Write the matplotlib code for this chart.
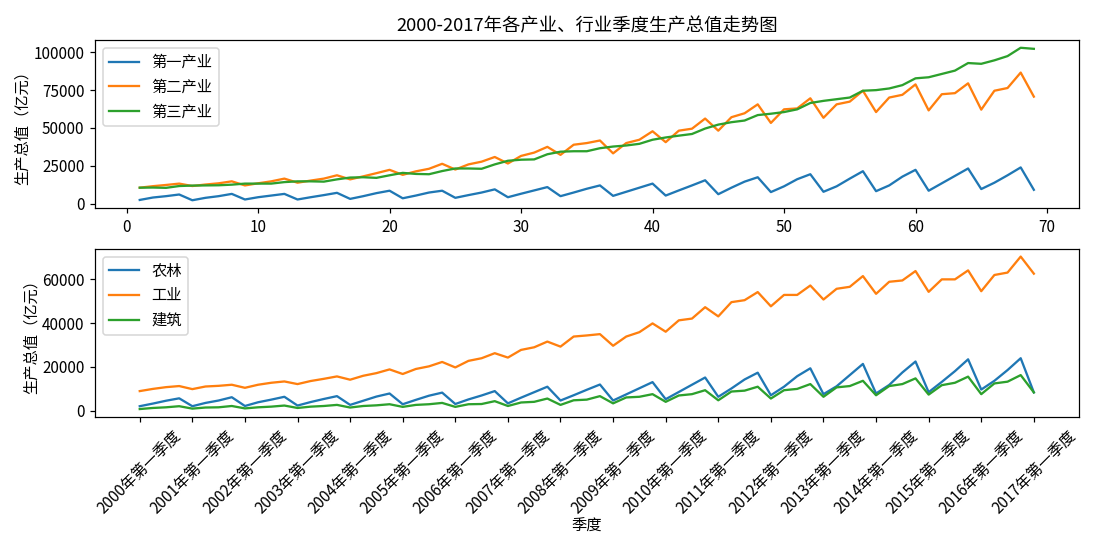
import matplotlib
matplotlib.use("Agg")
import matplotlib.pyplot as plt
import numpy as np

plt.rcParams['font.family'] = ['Noto Sans CJK SC', 'DejaVu Sans']
plt.rcParams['axes.unicode_minus'] = False

# quarter index for upper chart (1..69)
quarter_num = list(range(1, 70))

primary = [2400, 4000, 4900, 6000,
           2200, 3800, 4900, 6400,
           2700, 4200, 5300, 6400,
           2700, 4200, 5600, 7100,
           3100, 4900, 6900, 8500,
           3500, 5300, 7300, 8500,
           3800, 5600, 7300, 9400,
           4200, 6500, 8700, 10900,
           4900, 7300, 9800, 12000,
           5100, 7800, 10500, 13200,
           5300, 8700, 12000, 15400,
           6200, 10500, 14500, 17400,
           7600, 11400, 16100, 19400,
           7800, 11400, 16500, 21400,
           8200, 12000, 17800, 22300,
           8500, 13400, 18300, 23200,
           9600, 13800, 18700, 23900,
           9100]

secondary = [10500, 11500, 12300, 13200,
             11600, 12600, 13400, 14700,
             12000, 13400, 14700, 16500,
             13800, 15200, 16500, 18700,
             16000, 18000, 20100, 22300,
             19000, 21300, 23000, 26300,
             22500, 25900, 27700, 30800,
             26500, 31500, 33700, 37500,
             32200, 38900, 40000, 41700,
             33200, 40000, 42200, 47800,
             40600, 48200, 49500, 56200,
             48200, 57100, 59700, 65600,
             53300, 62300, 62900, 69600,
             56700, 65600, 67400, 74600,
             60500, 70100, 71900, 78800,
             61600, 72300, 73000, 79500,
             62100, 74600, 76400, 86600,
             70700]

tertiary = [10500, 10600, 10400, 11600,
            11900, 12000, 12100, 12500,
            13200, 13200, 13200, 14200,
            14700, 14700, 14500, 16000,
            17200, 17400, 17000, 18700,
            20300, 19600, 19400, 21500,
            23200, 23200, 23000, 25900,
            28300, 29000, 29200, 32600,
            34300, 34600, 34600, 36600,
            37700, 38400, 39500, 42200,
            43700, 44900, 46000, 49600,
            52200, 53800, 54900, 58500,
            59400, 60500, 62300, 66500,
            67900, 69000, 70100, 74600,
            75000, 76100, 78300, 82800,
            83500, 85700, 87900, 92900,
            92400, 94700, 97500, 103000,
            102300]

agriculture = [2100, 3300, 4600, 5700,
               2100, 3600, 4700, 6200,
               2200, 3900, 5100, 6400,
               2400, 4000, 5400, 6700,
               2700, 4600, 6500, 7900,
               3000, 5000, 6900, 8300,
               3100, 5200, 7000, 9000,
               3400, 6000, 8500, 11000,
               4700, 7100, 9600, 12000,
               4700, 7500, 10300, 13100,
               5300, 8600, 11900, 15200,
               6400, 10200, 14300, 17400,
               7100, 11000, 15800, 19400,
               7600, 11200, 16300, 21400,
               7900, 11800, 17500, 22500,
               8500, 13200, 18100, 23500,
               9700, 13700, 18600, 24000,
               8400]

industry = [9000, 10000, 10800, 11300,
            9900, 11100, 11400, 11900,
            10500, 11900, 12800, 13400,
            12200, 13600, 14600, 15700,
            14200, 16000, 17200, 18900,
            16800, 19100, 20300, 22300,
            19800, 22800, 24000, 26300,
            24300, 27800, 29000, 31600,
            29300, 33900, 34400, 35000,
            29700, 33900, 35900, 39900,
            36100, 41300, 42100, 47300,
            43100, 49600, 50500, 54200,
            47700, 52900, 52900, 57200,
            50800, 55700, 56600, 61500,
            53400, 58900, 59500, 63800,
            54300, 60000, 60000, 64100,
            54600, 62000, 63100, 70400,
            62600]

construction = [800, 1300, 1600, 2100,
                1000, 1500, 1600, 2200,
                1100, 1600, 1900, 2400,
                1300, 1900, 2200, 2700,
                1500, 2200, 2500, 3000,
                1800, 2700, 3000, 3600,
                1800, 3000, 3100, 4400,
                2200, 3800, 4100, 5600,
                2700, 4800, 5100, 6700,
                3400, 6100, 6400, 7600,
                4100, 7000, 7600, 9400,
                4800, 8800, 9200, 11000,
                5600, 9400, 10000, 12200,
                6400, 10700, 11300, 13700,
                7100, 11300, 12200, 14800,
                7400, 11700, 12800, 15600,
                7600, 12500, 13300, 16300,
                8400]

tick_labels = ['2000年第一季度', '2001年第一季度', '2002年第一季度', '2003年第一季度',
               '2004年第一季度', '2005年第一季度', '2006年第一季度', '2007年第一季度',
               '2008年第一季度', '2009年第一季度', '2010年第一季度', '2011年第一季度',
               '2012年第一季度', '2013年第一季度', '2014年第一季度', '2015年第一季度',
               '2016年第一季度', '2017年第一季度']

top_yticks = [0, 25000, 50000, 75000, 100000]
bottom_yticks = [0, 20000, 40000, 60000]

fig, (ax1, ax2) = plt.subplots(2, 1, figsize=(10, 5), dpi=110)
fig.subplots_adjust(left=0.0864, right=0.9805, top=0.927, bottom=0.2424, hspace=0.245)

ax1.plot(quarter_num, primary, label='第一产业')
ax1.plot(quarter_num, secondary, label='第二产业')
ax1.plot(quarter_num, tertiary, label='第三产业')
ax1.set_yticks(top_yticks)
ax1.set_ylabel('生产总值（亿元）', labelpad=1.5)
ax1.set_title('2000-2017年各产业、行业季度生产总值走势图')
ax1.legend(loc='upper left')

idx = np.arange(len(agriculture))
ax2.plot(idx, agriculture, label='农林')
ax2.plot(idx, industry, label='工业')
ax2.plot(idx, construction, label='建筑')
ax2.set_xticks(idx[::4])
ax2.set_xticklabels(tick_labels, rotation=45)
ax2.set_yticks(bottom_yticks)
ax2.set_ylabel('生产总值（亿元）', labelpad=1.5)
ax2.set_xlabel('季度', labelpad=0)
ax2.legend(loc='upper left')

fig.savefig('out.png', dpi=110)
